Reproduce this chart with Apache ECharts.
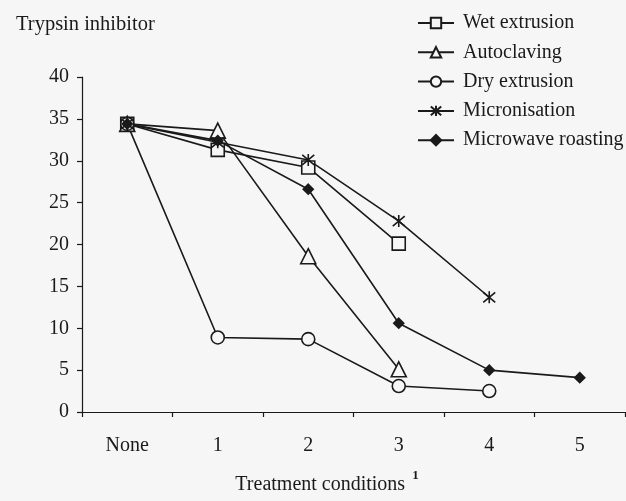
<!DOCTYPE html>
<html>
<head>
<meta charset="utf-8">
<script src="https://cdn.jsdelivr.net/npm/echarts@6/dist/echarts.min.js"></script>
<style>
  html, body { margin: 0; padding: 0; background: #f6f6f6; }
  #main { width: 626px; height: 501px; }
</style>
</head>
<body>
<div id="main"></div>
<script>
// treatment conditions on the x axis
const categories = ['None', '1', '2', '3', '4', '5']

// trypsin inhibitor values
const wetExtrusion = [34.4, 31.3, 29.2, 20.1, null, null]
const autoclaving = [34.4, 33.6, 18.6, 5.1, null, null]
const dryExtrusion = [34.4, 8.9, 8.7, 3.1, 2.5, null]
const micronisation = [34.4, 32.2, 30.1, 22.8, 13.7, null]
const microwaveRoasting = [34.4, 32.4, 26.6, 10.6, 5.0, 4.1]

const yTicks = { min: 0, max: 40, interval: 5 }

const font = 'Liberation Serif'
const ink = '#1a1a1a'
const bg = '#f6f6f6'

const asterisk = 'path://M0,0L10,10M0,10L10,0M5,-1L5,11'

function makeSeries (name, data, symbol, size, hollow) {
  return {
    name: name,
    type: 'line',
    data: data,
    symbol: symbol,
    symbolSize: size,
    showAllSymbol: true,
    connectNulls: false,
    lineStyle: { color: ink, width: 1.6 },
    itemStyle: {
      color: hollow ? bg : ink,
      borderColor: ink,
      borderWidth: 1.6
    },
    emphasis: { disabled: true }
  }
}

const series = [
  makeSeries('Wet extrusion', wetExtrusion, 'rect', 13, true),
  makeSeries('Autoclaving', autoclaving, 'triangle', 15, true),
  makeSeries('Dry extrusion', dryExtrusion, 'circle', 13, true),
  makeSeries('Micronisation', micronisation, asterisk, 12, false),
  makeSeries('Microwave roasting', microwaveRoasting, 'diamond', 10, false)
]

const myChart = echarts.init(document.getElementById('main'))
const option = {
  backgroundColor: bg,
  animation: false,
  textStyle: { fontFamily: font, color: ink },
  title: {
    text: 'Trypsin inhibitor',
    left: 11,
    top: 9,
    textStyle: { fontFamily: font, fontSize: 20.5, fontWeight: 'normal', color: ink }
  },
  legend: {
    orient: 'vertical',
    left: 412,
    top: 8,
    itemWidth: 36,
    itemHeight: 13,
    itemGap: 9.3,
    textStyle: { fontFamily: font, fontSize: 20, color: ink, lineHeight: 19, padding: [0, 0, 0, 4] },
    data: series.map(v => v.name)
  },
  grid: {
    left: 82,
    right: 1,
    top: 77,
    bottom: 89,
    outerBoundsMode: 'none'
  },
  xAxis: {
    type: 'category',
    data: categories,
    boundaryGap: true,
    axisLine: { lineStyle: { color: ink, width: 1.2 } },
    axisTick: { show: true, length: 5, lineStyle: { color: ink, width: 1.2 } },
    axisLabel: { fontFamily: font, fontSize: 20, color: ink, margin: 24 },
    name: '{a|Treatment conditions}{s|1}',
    nameLocation: 'middle',
    nameGap: 57,
    nameTextStyle: {
      padding: [0, 53, 0, 0],
      rich: {
        a: { fontFamily: font, fontSize: 20, color: ink, lineHeight: 26, verticalAlign: 'bottom' },
        s: { fontFamily: font, fontSize: 13, fontWeight: 'bold', color: ink, lineHeight: 13, verticalAlign: 'top', padding: [0, 0, 0, 7] }
      }
    }
  },
  yAxis: {
    type: 'value',
    min: yTicks.min,
    max: yTicks.max,
    interval: yTicks.interval,
    splitLine: { show: false },
    axisLine: { show: true, lineStyle: { color: ink, width: 1.2 } },
    axisTick: { show: true, length: 5, lineStyle: { color: ink, width: 1.2 } },
    axisLabel: { fontFamily: font, fontSize: 20, color: ink, margin: 13 }
  },
  series: series
}
myChart.setOption(option)
</script>
</body>
</html>
